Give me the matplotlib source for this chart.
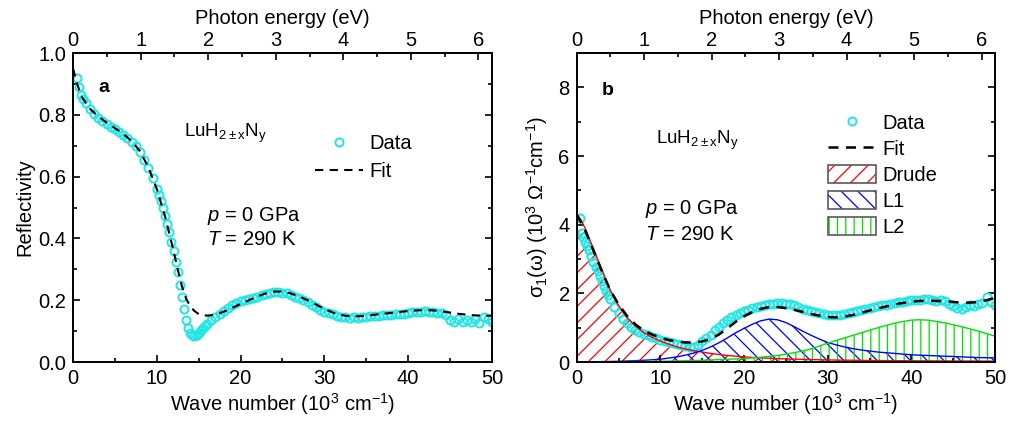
import numpy as np
import matplotlib
matplotlib.use("Agg")
import matplotlib.pyplot as plt
from matplotlib.lines import Line2D
from matplotlib.patches import Patch
from matplotlib.ticker import MultipleLocator, FixedLocator

# ---------------------------------------------------------------------
# DATA (wave number in 10^3 cm^-1)
# ---------------------------------------------------------------------
refl_wn = [0.5, 0.75, 1.0, 1.25, 1.5, 2.0, 2.5, 3.0, 3.5, 4.0, 4.5, 5.0, 5.5, 6.0, 6.5,
           7.0, 7.5, 8.0, 8.5, 9.0, 9.5, 10.0, 10.25, 10.5, 10.75, 11.0, 11.25, 11.5,
           11.75, 12.0, 12.25, 12.5, 12.75, 13.0, 13.25, 13.5, 13.75, 14.0, 14.25, 14.5,
           14.75, 15.0, 15.25, 15.5, 15.75, 16.0, 16.5, 17.0, 17.5, 18.0, 18.5, 19.0,
           19.5, 20.0, 20.5, 21.0, 21.5, 22.0, 22.5, 23.0, 23.5, 24.0, 24.5, 25.0, 25.5,
           26.0, 26.5, 27.0, 27.5, 28.0, 28.5, 29.0, 29.5, 30.0, 30.5, 31.0, 31.5, 32.0,
           32.5, 33.0, 33.5, 34.0, 34.5, 35.0, 35.5, 36.0, 36.5, 37.0, 37.5, 38.0, 38.5,
           39.0, 39.5, 40.0, 40.5, 41.0, 41.5, 42.0, 42.5, 43.0, 43.5, 44.0, 44.5, 45.0,
           45.5, 46.0, 46.5, 47.0, 47.5, 48.0, 48.5, 49.0, 49.5, 50.0]
refl_data = [0.92, 0.89, 0.865, 0.85, 0.838, 0.818, 0.803, 0.79, 0.78, 0.77, 0.762, 0.753,
             0.744, 0.735, 0.725, 0.713, 0.698, 0.68, 0.655, 0.628, 0.595, 0.56, 0.54, 0.52,
             0.497, 0.472, 0.447, 0.42, 0.39, 0.36, 0.325, 0.29, 0.25, 0.21, 0.17, 0.135,
             0.11, 0.093, 0.086, 0.085, 0.088, 0.095, 0.102, 0.11, 0.117, 0.124, 0.135,
             0.147, 0.157, 0.166, 0.175, 0.183, 0.19, 0.196, 0.2, 0.205, 0.208, 0.212,
             0.217, 0.22, 0.223, 0.225, 0.226, 0.224, 0.222, 0.218, 0.212, 0.207, 0.2,
             0.193, 0.185, 0.177, 0.169, 0.163, 0.158, 0.154, 0.15, 0.147, 0.145, 0.144,
             0.145, 0.143, 0.145, 0.147, 0.148, 0.149, 0.15, 0.151, 0.152, 0.153, 0.154,
             0.156, 0.157, 0.159, 0.161, 0.162, 0.163, 0.164, 0.163, 0.162, 0.16, 0.158,
             0.152, 0.135, 0.13, 0.14, 0.128, 0.135, 0.128, 0.14, 0.125, 0.145, 0.14, 0.13]

refl_fit_wn = [0, 0.5, 1, 1.5, 2, 3, 4, 5, 6, 7, 8, 9, 10, 11, 12, 12.5, 13, 13.5, 14, 14.5,
               15, 16, 17, 18, 19, 20, 21, 22, 23, 24, 25, 26, 27, 28, 29, 30, 31, 32, 33,
               34, 35, 36, 37, 38, 39, 40, 41, 42, 43, 44, 45, 46, 47, 48, 49, 50]
refl_fit = [0.95, 0.9, 0.86, 0.84, 0.82, 0.795, 0.775, 0.757, 0.738, 0.715, 0.682, 0.63,
            0.56, 0.47, 0.36, 0.3, 0.245, 0.205, 0.18, 0.165, 0.155, 0.15, 0.153, 0.163,
            0.175, 0.188, 0.2, 0.212, 0.222, 0.228, 0.228, 0.222, 0.212, 0.2, 0.186, 0.172,
            0.16, 0.152, 0.148, 0.148, 0.15, 0.153, 0.156, 0.159, 0.162, 0.165, 0.167,
            0.168, 0.167, 0.164, 0.16, 0.156, 0.153, 0.151, 0.15, 0.15]

sig_wn = [0.4, 0.6, 0.8, 1.0, 1.25, 1.5, 1.75, 2.0, 2.25, 2.5, 2.75, 3.0, 3.25, 3.5, 3.75,
          4.0, 4.5, 5.0, 5.5, 6.0, 6.5, 7.0, 7.5, 8.0, 8.5, 9.0, 9.5, 10.0, 10.5, 11.0,
          11.5, 12.0, 12.5, 13.0, 13.5, 14.0, 14.5, 15.0, 15.5, 16.0, 16.5, 17.0, 17.5,
          18.0, 18.5, 19.0, 19.5, 20.0, 20.5, 21.0, 21.5, 22.0, 22.5, 23.0, 23.5, 24.0,
          24.5, 25.0, 25.5, 26.0, 26.5, 27.0, 27.5, 28.0, 28.5, 29.0, 29.5, 30.0, 30.5,
          31.0, 31.5, 32.0, 32.5, 33.0, 33.5, 34.0, 34.5, 35.0, 35.5, 36.0, 36.5, 37.0,
          37.5, 38.0, 38.5, 39.0, 39.5, 40.0, 40.5, 41.0, 41.5, 42.0, 42.5, 43.0, 43.5,
          44.0, 44.5, 45.0, 45.5, 46.0, 46.5, 47.0, 47.5, 48.0, 48.5, 49.0, 49.5, 50.0]
sig_data = [4.2, 3.75, 3.65, 3.5, 3.38, 3.25, 3.1, 2.92, 2.78, 2.65, 2.5, 2.35, 2.22, 2.08,
            1.95, 1.83, 1.6, 1.42, 1.26, 1.13, 1.02, 0.94, 0.88, 0.83, 0.78, 0.73, 0.69,
            0.65, 0.62, 0.59, 0.56, 0.53, 0.5, 0.47, 0.45, 0.44, 0.5, 0.6, 0.7, 0.8, 0.92,
            1.03, 1.13, 1.23, 1.3, 1.37, 1.43, 1.48, 1.52, 1.56, 1.6, 1.63, 1.65, 1.68,
            1.7, 1.72, 1.71, 1.7, 1.68, 1.66, 1.6, 1.55, 1.52, 1.48, 1.45, 1.42, 1.4, 1.38,
            1.37, 1.37, 1.38, 1.4, 1.42, 1.45, 1.48, 1.52, 1.55, 1.58, 1.6, 1.62, 1.65,
            1.67, 1.69, 1.72, 1.74, 1.76, 1.78, 1.8, 1.81, 1.82, 1.84, 1.83, 1.8, 1.79, 1.8,
            1.78, 1.7, 1.62, 1.58, 1.55, 1.6, 1.65, 1.62, 1.68, 1.72, 1.9, 1.75, 1.65]

sig_fit_wn = [0, 1, 2, 3, 4, 5, 6, 7, 8, 9, 10, 11, 12, 13, 14, 15, 16, 17, 18, 19, 20, 21,
              22, 23, 24, 25, 26, 27, 28, 29, 30, 31, 32, 33, 34, 35, 36, 37, 38, 39, 40,
              41, 42, 43, 44, 45, 46, 47, 48, 49, 50]
sig_fit = [4.3, 3.85, 3.25, 2.65, 2.1, 1.68, 1.35, 1.1, 0.92, 0.8, 0.71, 0.64, 0.6, 0.57,
           0.57, 0.6, 0.67, 0.8, 0.98, 1.17, 1.33, 1.46, 1.55, 1.6, 1.6, 1.57, 1.52, 1.46,
           1.4, 1.35, 1.31, 1.3, 1.32, 1.37, 1.43, 1.5, 1.56, 1.62, 1.68, 1.72, 1.76, 1.78,
           1.79, 1.78, 1.77, 1.75, 1.73, 1.73, 1.75, 1.8, 1.87]

drude_wn = [0, 0.5, 1, 1.5, 2, 2.5, 3, 3.5, 4, 5, 6, 7, 8, 9, 10, 11, 12, 13, 14, 15, 16,
            17, 18, 20, 22, 25, 30, 35, 40, 45, 50]
drude = [4.3, 4.15, 3.9, 3.6, 3.3, 3.0, 2.7, 2.38, 2.1, 1.65, 1.3, 1.05, 0.86, 0.72, 0.61,
         0.52, 0.44, 0.38, 0.33, 0.29, 0.25, 0.22, 0.19, 0.15, 0.12, 0.09, 0.06, 0.045,
         0.035, 0.03, 0.025]

l1_wn = [0, 5, 8, 10, 12, 13, 14, 15, 16, 17, 18, 19, 20, 21, 22, 23, 24, 25, 26, 27, 28,
         29, 30, 31, 32, 33, 34, 35, 36, 37, 38, 39, 40, 42, 44, 46, 48, 50]
l1 = [0, 0.02, 0.05, 0.08, 0.15, 0.2, 0.26, 0.34, 0.44, 0.56, 0.7, 0.85, 0.98, 1.1, 1.2,
      1.25, 1.23, 1.15, 1.03, 0.9, 0.78, 0.67, 0.57, 0.5, 0.44, 0.39, 0.35, 0.32, 0.29,
      0.27, 0.25, 0.23, 0.21, 0.19, 0.17, 0.15, 0.13, 0.12]

l2_wn = [0, 10, 15, 18, 20, 22, 24, 26, 28, 30, 32, 34, 36, 38, 39, 40, 41, 42, 43, 44, 46,
         48, 50]
l2 = [0, 0.02, 0.05, 0.08, 0.1, 0.14, 0.19, 0.27, 0.38, 0.55, 0.7, 0.85, 1.0, 1.13, 1.18,
      1.22, 1.23, 1.22, 1.18, 1.14, 1.03, 0.9, 0.75]

ev_major = [0, 1, 2, 3, 4, 5, 6]
ev_minor = [0.5, 1.5, 2.5, 3.5, 4.5, 5.5]

# ---------------------------------------------------------------------
# STYLE
# ---------------------------------------------------------------------
plt.rcParams['font.family'] = ['Liberation Sans', 'DejaVu Sans']
plt.rcParams['mathtext.fontset'] = 'custom'
plt.rcParams['mathtext.rm'] = 'Liberation Sans'
plt.rcParams['mathtext.it'] = 'Liberation Sans:italic'
plt.rcParams['mathtext.bf'] = 'Liberation Sans:bold'
plt.rcParams['hatch.linewidth'] = 0.9

FS = 14.5
CYAN = '#1ee6e6'
MS = 5.8
EV_PER_KCM = 1000.0 / 8065.54


def wn2ev(x):
    return x * EV_PER_KCM


def ev2wn(e):
    return e / EV_PER_KCM


def style_axes(ax):
    ax.set_xlim(0, 50)
    ax.xaxis.set_major_locator(MultipleLocator(10))
    ax.xaxis.set_minor_locator(MultipleLocator(5))
    ax.tick_params(which='both', direction='in', top=False, right=True, labelsize=FS,
                   width=1.2, pad=5)
    ax.tick_params(which='major', length=5)
    ax.tick_params(which='minor', length=3)
    for s in ax.spines.values():
        s.set_linewidth(1.4)
    ax.set_xlabel('Wave number (10$^3$ cm$^{-1}$)', fontsize=FS, labelpad=2)
    sec = ax.secondary_xaxis('top', functions=(wn2ev, ev2wn))
    sec.xaxis.set_major_locator(FixedLocator(ev_major))
    sec.xaxis.set_minor_locator(FixedLocator(ev_minor))
    sec.tick_params(which='both', direction='in', labelsize=FS, width=1.2, pad=2)
    sec.tick_params(which='major', length=5)
    sec.tick_params(which='minor', length=3)
    sec.spines['top'].set_linewidth(1.4)
    sec.set_xlabel('Photon energy (eV)', fontsize=FS, labelpad=5)


fig = plt.figure(figsize=(10.11, 4.21), dpi=100)
ax1 = fig.add_axes([0.0722, 0.1401, 0.4144, 0.7340])
ax2 = fig.add_axes([0.5704, 0.1401, 0.4138, 0.7340])

# ---------------------------------------------------------------------
# PANEL a : reflectivity
# ---------------------------------------------------------------------
ax1.plot(refl_wn, refl_data, 'o', mfc='none', mec=CYAN, ms=MS, mew=1.4, label='Data')
ax1.plot(refl_fit_wn, refl_fit, '--', color='black', lw=1.5, dashes=(4, 3), label='Fit')
ax1.set_ylim(0, 1.0)
ax1.yaxis.set_major_locator(MultipleLocator(0.2))
ax1.yaxis.set_minor_locator(MultipleLocator(0.1))
ax1.yaxis.set_major_formatter(plt.FuncFormatter(lambda v, p: f'{v:.1f}'))
style_axes(ax1)
ax1.set_ylabel('Reflectivity', fontsize=FS, labelpad=3)

ax1.text(0.074, 0.887, 'a', transform=ax1.transAxes, fontsize=14, fontweight='bold',
         ha='center', va='center')
ax1.text(0.265, 0.741, r'LuH$_{\mathrm{2\pm x}}$N$_\mathrm{y}$', transform=ax1.transAxes,
         fontsize=13.5, ha='left', va='center')
ax1.text(0.319, 0.472, r'$p$ = 0 GPa', transform=ax1.transAxes, fontsize=FS,
         ha='left', va='center')
ax1.text(0.319, 0.395, r'$T$ = 290 K', transform=ax1.transAxes, fontsize=FS,
         ha='left', va='center')
ax1.legend(loc='upper left', bbox_to_anchor=(0.578, 0.738), frameon=False, fontsize=FS,
           handlelength=2.4, handletextpad=0.3, labelspacing=0.45, borderpad=0,
           borderaxespad=0)

# ---------------------------------------------------------------------
# PANEL b : optical conductivity
# ---------------------------------------------------------------------
ax2.fill_between(drude_wn, 0, drude, facecolor='none', edgecolor='red', hatch='//',
                 linewidth=0)
ax2.fill_between(l1_wn, 0, l1, facecolor='none', edgecolor='blue', hatch='\\\\',
                 linewidth=0)
ax2.fill_between(l2_wn, 0, l2, facecolor='none', edgecolor='#00e000', hatch='||',
                 linewidth=0)
ax2.plot(sig_wn, sig_data, 'o', mfc='none', mec=CYAN, ms=MS, mew=1.4)
ax2.plot(drude_wn, drude, color='red', lw=1.0)
ax2.plot(l1_wn, l1, color='blue', lw=1.0)
ax2.plot(l2_wn, l2, color='#00e000', lw=1.0)
ax2.plot(sig_fit_wn, sig_fit, '--', color='black', lw=1.8, dashes=(4, 3))
ax2.set_ylim(0, 9)
ax2.yaxis.set_major_locator(MultipleLocator(2))
ax2.yaxis.set_minor_locator(MultipleLocator(1))
style_axes(ax2)
ax2.set_ylabel('σ$_1$(ω) (10$^3$ Ω$^{-1}$cm$^{-1}$)', fontsize=FS, labelpad=6)

ax2.text(0.075, 0.88, 'b', transform=ax2.transAxes, fontsize=14, fontweight='bold',
         ha='center', va='center')
ax2.text(0.19, 0.718, r'LuH$_{\mathrm{2\pm x}}$N$_\mathrm{y}$', transform=ax2.transAxes,
         fontsize=13.5, ha='left', va='center')
ax2.text(0.163, 0.495, r'$p$ = 0 GPa', transform=ax2.transAxes, fontsize=FS,
         ha='left', va='center')
ax2.text(0.163, 0.414, r'$T$ = 290 K', transform=ax2.transAxes, fontsize=FS,
         ha='left', va='center')

frame = dict(facecolor='none', edgecolor='0.35', linewidth=1.2)
handles = [
    Line2D([], [], ls='none', marker='o', mfc='none', mec=CYAN, ms=MS, mew=1.4),
    Line2D([], [], ls='--', color='black', lw=1.8, dashes=(4, 3)),
    (Patch(facecolor='none', edgecolor='red', hatch='//', lw=0), Patch(**frame)),
    (Patch(facecolor='none', edgecolor='blue', hatch='\\\\', lw=0), Patch(**frame)),
    (Patch(facecolor='none', edgecolor='#00e000', hatch='||', lw=0), Patch(**frame)),
]
labels = ['Data', 'Fit', 'Drude', 'L1', 'L2']
ax2.legend(handles, labels, loc='upper left', bbox_to_anchor=(0.601, 0.805),
           frameon=False, fontsize=FS, handlelength=2.4, handleheight=1.0,
           handletextpad=0.3, labelspacing=0.3, borderpad=0, borderaxespad=0)

fig.savefig('out.png', dpi=100)
